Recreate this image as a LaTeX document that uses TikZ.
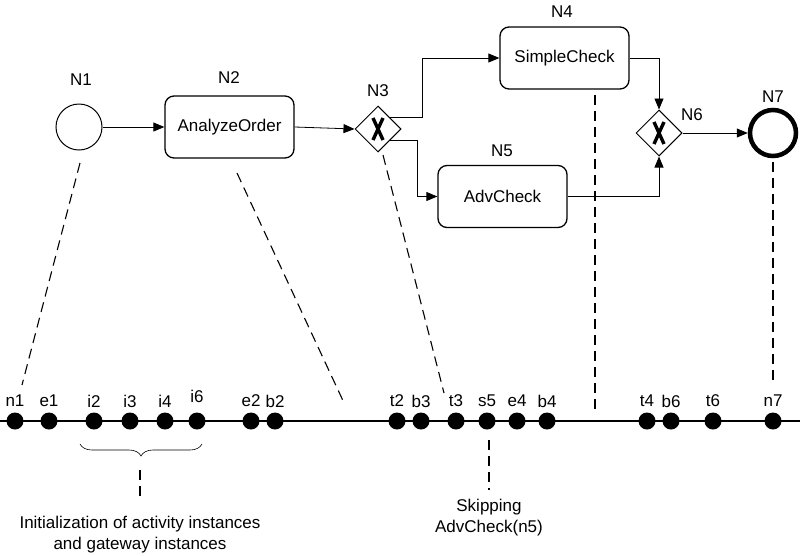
\documentclass[tikz,border=0pt]{standalone}
\usepackage{fontspec}
\setmainfont{Liberation Sans}
\usetikzlibrary{shapes.geometric,arrows.meta,decorations.pathreplacing,calc}
\begin{document}
\begin{tikzpicture}[x=1pt,y=-1pt,
  every node/.style={font=\fontsize{17}{21}\selectfont},
  task/.style={draw,line width=1.3pt,rounded corners=9pt,minimum width=129pt,minimum height=62pt,inner sep=0pt},
  gw/.style={draw,line width=1pt,diamond,minimum width=46pt,minimum height=46pt,inner sep=0pt},
  arr/.style={line width=0.8pt,-{Triangle[length=11pt,width=9pt]}},
  dsh/.style={line width=1.1pt,dash pattern=on 10pt off 6pt},
  dot/.style={circle,fill=black,minimum size=17pt,inner sep=0pt},
  tl/.style={line width=2pt},
  lbl/.style={inner sep=1pt}]
\useasboundingbox (0,0) rectangle (800,555);

% process nodes
\node[circle,draw,line width=1pt,minimum size=46pt,inner sep=0pt] (N1) at (79,127) {};
\node[lbl] (lN1) at (81,80) {N1};
\node[task] (N2) at (229.5,127) {AnalyzeOrder};
\node[lbl] (lN2) at (229,78) {N2};
\node[gw] (N3) at (378,129) {};
\node[lbl] (lN3) at (378,91) {N3};
\node[task] (N4) at (564.5,58) {SimpleCheck};
\node[lbl] (lN4) at (562,12) {N4};
\node[task] (N5) at (502.5,196.5) {AdvCheck};
\node[lbl] (lN5) at (502,151) {N5};
\node[gw] (N6) at (659,133) {};
\node[lbl] (lN6) at (692,115) {N6};
\node[circle,draw,line width=4.5pt,minimum size=46pt,inner sep=0pt] (N7) at (773,133) {};
\node[lbl] (lN7) at (773,97) {N7};

% X marks
\foreach \g in {N3,N6}{
  \draw[line width=3.4pt] ($(\g)+(-5,-11)$) -- ($(\g)+(5,11)$);
  \draw[line width=3.4pt] ($(\g)+(5,-11)$) -- ($(\g)+(-5,11)$);
}

% flows
\draw[arr] (N1) -- (N2);
\draw[arr] (N2.east) -- (N3.west);
\draw[arr] (N3.north east) -- ++(33,0) |- (N4.west);
\draw[arr] (N3.south east) -- ++(28,0) |- (N5.west);
\draw[arr] (N4.east) -| (N6.north);
\draw[arr] (N5.east) -| (N6.south);
\draw[arr] (N6.east) -- (N7.west);

% timeline
\coordinate (tlA) at (0,421);
\coordinate (tlB) at (800,421);
\draw[tl] (tlA) -- (tlB);
\foreach \n/\x in {n1/15,e1/49,i2/94,i3/130,i4/165,e2/251,b2/275,t2/397,b3/421,t3/456,s5/487,e4/517,b4/547,t4/647,b6/671,t6/713,n7/773}{
  \node[dot] (d\n) at (\x,421) {};
  \node[lbl] (l\n) at (\x,401) {\n};
}
\node[dot] (di6) at (197,421) {};
\node[lbl] (li6) at (197,396) {i6};

% mapping dashed lines
\coordinate (m1a) at (80,163);  \coordinate (m1b) at (22,385);
\coordinate (m2a) at (237,173); \coordinate (m2b) at (345,405);
\coordinate (m3a) at (383,155); \coordinate (m3b) at (444,393);
\coordinate (m4a) at (595,95);  \coordinate (m4b) at (595,414);
\coordinate (m7a) at (773,162); \coordinate (m7b) at (773,385);
\draw[dsh] (m1a) -- (m1b);
\draw[dsh] (m2a) -- (m2b);
\draw[dsh] (m3a) -- (m3b);
\draw[dsh] (m4a) -- (m4b);
\draw[dsh] (m7a) -- (m7b);

% brace and annotations
\coordinate (brA) at (80,444);
\coordinate (brB) at (202,444);
\draw[line width=0.6pt,decorate,decoration={brace,mirror,amplitude=12pt}] (brA) -- (brB);
\coordinate (a1a) at (140,470); \coordinate (a1b) at (140,500);
\draw[dsh] (a1a) -- (a1b);
\node[align=center,font=\fontsize{17}{21}\selectfont] (ann1) at (140,535) {Initialization of activity instances\\and gateway instances};
\coordinate (a2a) at (489,440); \coordinate (a2b) at (489,490);
\draw[dsh] (a2a) -- (a2b);
\node[align=center,font=\fontsize{17}{21}\selectfont] (ann2) at (489,518) {Skipping\\AdvCheck(n5)};
\end{tikzpicture}
\end{document}
